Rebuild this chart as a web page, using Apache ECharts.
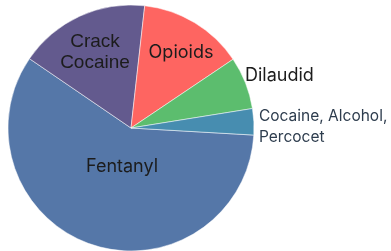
<!DOCTYPE html>
<html>
<head>
<meta charset="utf-8">
<script src="https://cdn.jsdelivr.net/npm/echarts@6/dist/echarts.min.js"></script>
<style>
html,body{margin:0;padding:0;background:#fff;}
#main{width:391px;height:251px;}
</style>
</head>
<body>
<div id="main"></div>
<script>
var names = ['Fentanyl', 'Crack\nCocaine', 'Opioids', 'Dilaudid', 'Cocaine, Alcohol,\nPercocet'];
var counts = [17, 5, 4, 2, 1];

var colors = ['#5577a8', '#635a8e', '#fe6561', '#5cbd6e', '#478db0'];
// where each label sits (centre of text for inside ones, left edge for outside)
var labelAt = [
    {x: 122, y: 167, align: 'center'},
    {x: 95, y: 52, align: 'center'},
    {x: 181, y: 53, align: 'center'},
    {x: 245, y: 76, align: 'left'},
    {x: 259, y: 127, align: 'left'}
];

var d = [];
for (var i = 0; i < names.length; i++) {
    var lab = {
        show: true,
        position: i < 3 ? 'inside' : 'outside',
        fontFamily: 'Inter',
        fontSize: 18,
        color: '#1c1c1c'
    };
    if (i == 1) {
        lab.fontFamily = 'Liberation Sans';
        lab.fontSize = 19;
        lab.lineHeight = 21;
    }
    if (i == 4) {
        lab.fontSize = 15.5;
        lab.lineHeight = 21;
        lab.color = '#2e3d4e';
    }
    d.push({
        name: names[i],
        value: counts[i],
        itemStyle: {color: colors[i]},
        label: lab,
        labelLine: {show: false}
    });
}

var myChart = echarts.init(document.getElementById('main'));
var option = {
    animation: false,
    series: [
        {
            type: 'pie',
            center: [131, 128],
            radius: 123,
            startAngle: -3.3,
            clockwise: true,
            avoidLabelOverlap: false,
            itemStyle: {borderColor: '#ffffff', borderWidth: 0.5},
            label: {formatter: '{b}'},
            labelLayout: function (p) {
                var a = labelAt[p.dataIndex];
                return {x: a.x, y: a.y, align: a.align, verticalAlign: 'middle'};
            },
            data: d
        }
    ]
};
myChart.setOption(option);
</script>
</body>
</html>
